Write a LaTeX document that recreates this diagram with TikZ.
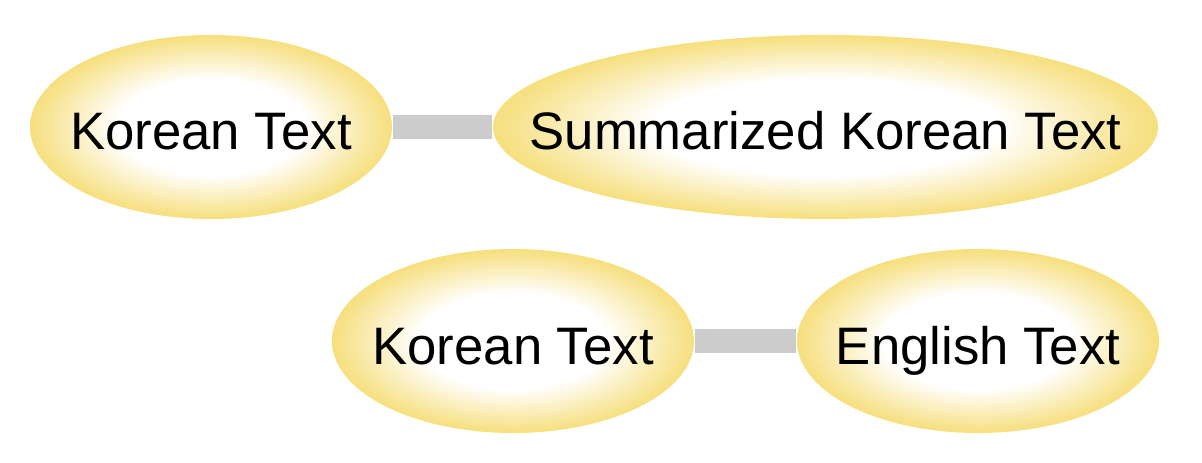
\documentclass[tikz,border=0pt]{standalone}
\usepackage{fontspec}
\setmainfont{Liberation Sans}
\usetikzlibrary{shapes.geometric}
\definecolor{goldrim}{RGB}{246,223,125}
\definecolor{linkgray}{RGB}{204,204,204}
\pgfdeclareradialshading{glow}{\pgfpoint{0bp}{0bp}}{%
  color(0bp)=(white); color(13bp)=(white); color(25bp)=(goldrim); color(50bp)=(goldrim)}
\newcommand{\ctr}[1]{\makebox[0pt]{#1}}

\begin{document}
\begin{tikzpicture}[
    blob/.style={ellipse, shading=glow, inner sep=0pt, minimum height=1.84cm,
                 text height=0.46cm, text depth=0pt,
                 font=\fontsize{15pt}{18pt}\selectfont},
    link/.style={linkgray, line width=0.24cm}]
            \useasboundingbox (0,0) rectangle (12.02,4.62);
            \node[blob, minimum width=3.62cm] (kor1) at (2.11,3.35) {\ctr{Korean Text}};
            \node[blob, minimum width=6.65cm] (summ) at (8.255,3.35) {\ctr{Summarized Korean Text}};
            \node[blob, minimum width=3.62cm] (kor2) at (5.13,1.21) {\ctr{Korean Text}};
            \node[blob, minimum width=3.62cm] (eng) at (9.78,1.21) {\ctr{English Text}};
            \draw[link] (kor1) -- (summ);
            \draw[link] (kor2) -- (eng);
        \end{tikzpicture}
\end{document}
